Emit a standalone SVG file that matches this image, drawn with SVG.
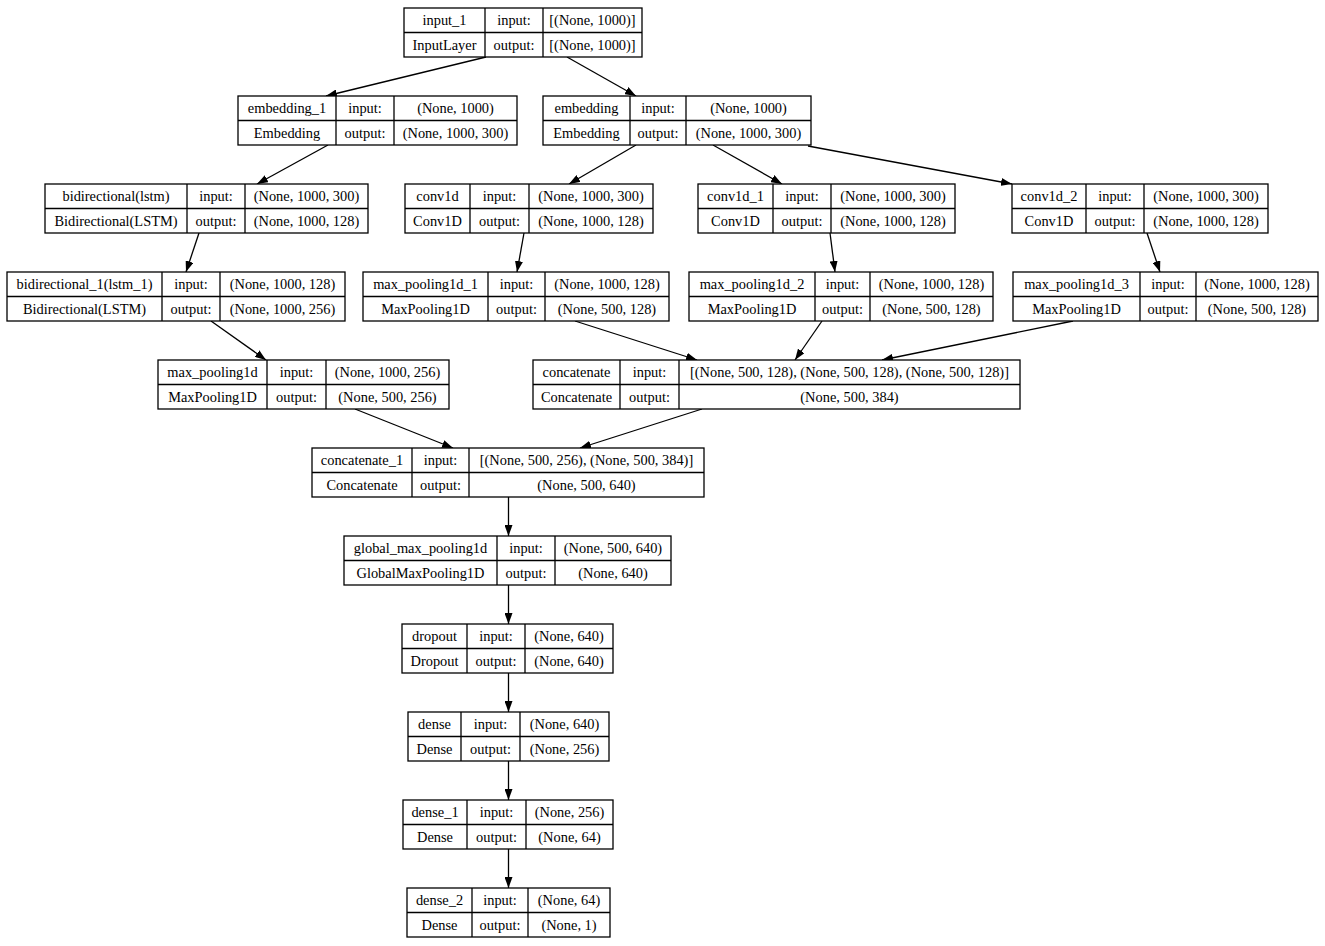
<svg xmlns="http://www.w3.org/2000/svg" width="1325" height="946" viewBox="0 0 1325 946">
<style>
.b{fill:#fff;stroke:#000;stroke-width:1.3}
.d{stroke:#000;stroke-width:1.3}
text{font-family:"Liberation Serif","Times New Roman",serif;font-size:14.4px;fill:#000;text-anchor:middle}
.e{stroke:#000;stroke-width:1.3;fill:none;marker-end:url(#ah)}
</style>
<defs>
<marker id="ah" viewBox="0 0 11 8" refX="11" refY="4" markerWidth="11" markerHeight="8" markerUnits="userSpaceOnUse" orient="auto">
<path d="M0,0 L11,4 L0,8 Z" fill="#000"/>
</marker>
</defs>
<rect width="1325" height="946" fill="#fff"/>
<g id="connectors">
<line class="e" x1="486" y1="57" x2="326" y2="96"/>
<line class="e" x1="567" y1="57" x2="636" y2="96"/>
<line class="e" x1="328" y1="145" x2="257" y2="184"/>
<line class="e" x1="199" y1="233" x2="186" y2="272"/>
<line class="e" x1="211" y1="321" x2="266" y2="360"/>
<line class="e" x1="636" y1="145" x2="569" y2="184"/>
<line class="e" x1="713" y1="145" x2="782" y2="184"/>
<line class="e" x1="808" y1="146" x2="1012" y2="184"/>
<line class="e" x1="524" y1="233" x2="517" y2="272"/>
<line class="e" x1="830" y1="233" x2="835" y2="272"/>
<line class="e" x1="1147" y1="233" x2="1160" y2="272"/>
<line class="e" x1="575" y1="321" x2="697" y2="360"/>
<line class="e" x1="822" y1="321" x2="795" y2="360"/>
<line class="e" x1="1073" y1="321" x2="882" y2="360"/>
<line class="e" x1="355" y1="409" x2="453" y2="448"/>
<line class="e" x1="702" y1="409" x2="580" y2="448"/>
<line class="e" x1="508.5" y1="497" x2="508.5" y2="536"/>
<line class="e" x1="508.5" y1="585" x2="508.5" y2="624"/>
<line class="e" x1="508.5" y1="673" x2="508.5" y2="712"/>
<line class="e" x1="508.5" y1="761" x2="508.5" y2="800"/>
<line class="e" x1="508.5" y1="849" x2="508.5" y2="888"/>
</g>
<g id="input_1">
<rect class="b" x="404" y="8" width="238" height="49"/>
<line class="d" x1="404" y1="32.5" x2="642" y2="32.5"/>
<line class="d" x1="485" y1="8" x2="485" y2="57"/>
<line class="d" x1="543" y1="8" x2="543" y2="57"/>
<text x="444.5" y="25">input_1</text><text x="514" y="25">input:</text><text x="592.5" y="25">[(None, 1000)]</text>
<text x="444.5" y="50">InputLayer</text><text x="514" y="50">output:</text><text x="592.5" y="50">[(None, 1000)]</text>
</g>
<g id="embedding_1">
<rect class="b" x="238" y="96" width="279" height="49"/>
<line class="d" x1="238" y1="120.5" x2="517" y2="120.5"/>
<line class="d" x1="336" y1="96" x2="336" y2="145"/>
<line class="d" x1="394" y1="96" x2="394" y2="145"/>
<text x="287" y="113">embedding_1</text><text x="365" y="113">input:</text><text x="455.5" y="113">(None, 1000)</text>
<text x="287" y="138">Embedding</text><text x="365" y="138">output:</text><text x="455.5" y="138">(None, 1000, 300)</text>
</g>
<g id="embedding">
<rect class="b" x="543" y="96" width="268" height="49"/>
<line class="d" x1="543" y1="120.5" x2="811" y2="120.5"/>
<line class="d" x1="630" y1="96" x2="630" y2="145"/>
<line class="d" x1="686" y1="96" x2="686" y2="145"/>
<text x="586.5" y="113">embedding</text><text x="658" y="113">input:</text><text x="748.5" y="113">(None, 1000)</text>
<text x="586.5" y="138">Embedding</text><text x="658" y="138">output:</text><text x="748.5" y="138">(None, 1000, 300)</text>
</g>
<g id="bidirectional_lstm">
<rect class="b" x="45" y="184" width="323" height="49"/>
<line class="d" x1="45" y1="208.5" x2="368" y2="208.5"/>
<line class="d" x1="187" y1="184" x2="187" y2="233"/>
<line class="d" x1="245" y1="184" x2="245" y2="233"/>
<text x="116" y="201">bidirectional(lstm)</text><text x="216" y="201">input:</text><text x="306.5" y="201">(None, 1000, 300)</text>
<text x="116" y="226">Bidirectional(LSTM)</text><text x="216" y="226">output:</text><text x="306.5" y="226">(None, 1000, 128)</text>
</g>
<g id="conv1d">
<rect class="b" x="405" y="184" width="248" height="49"/>
<line class="d" x1="405" y1="208.5" x2="653" y2="208.5"/>
<line class="d" x1="470" y1="184" x2="470" y2="233"/>
<line class="d" x1="529" y1="184" x2="529" y2="233"/>
<text x="437.5" y="201">conv1d</text><text x="499.5" y="201">input:</text><text x="591" y="201">(None, 1000, 300)</text>
<text x="437.5" y="226">Conv1D</text><text x="499.5" y="226">output:</text><text x="591" y="226">(None, 1000, 128)</text>
</g>
<g id="conv1d_1">
<rect class="b" x="698" y="184" width="257" height="49"/>
<line class="d" x1="698" y1="208.5" x2="955" y2="208.5"/>
<line class="d" x1="773" y1="184" x2="773" y2="233"/>
<line class="d" x1="831" y1="184" x2="831" y2="233"/>
<text x="735.5" y="201">conv1d_1</text><text x="802" y="201">input:</text><text x="893" y="201">(None, 1000, 300)</text>
<text x="735.5" y="226">Conv1D</text><text x="802" y="226">output:</text><text x="893" y="226">(None, 1000, 128)</text>
</g>
<g id="conv1d_2">
<rect class="b" x="1012" y="184" width="256" height="49"/>
<line class="d" x1="1012" y1="208.5" x2="1268" y2="208.5"/>
<line class="d" x1="1086" y1="184" x2="1086" y2="233"/>
<line class="d" x1="1144" y1="184" x2="1144" y2="233"/>
<text x="1049" y="201">conv1d_2</text><text x="1115" y="201">input:</text><text x="1206" y="201">(None, 1000, 300)</text>
<text x="1049" y="226">Conv1D</text><text x="1115" y="226">output:</text><text x="1206" y="226">(None, 1000, 128)</text>
</g>
<g id="bidirectional_1">
<rect class="b" x="7" y="272" width="338" height="49"/>
<line class="d" x1="7" y1="296.5" x2="345" y2="296.5"/>
<line class="d" x1="162" y1="272" x2="162" y2="321"/>
<line class="d" x1="220" y1="272" x2="220" y2="321"/>
<text x="84.5" y="289">bidirectional_1(lstm_1)</text><text x="191" y="289">input:</text><text x="282.5" y="289">(None, 1000, 128)</text>
<text x="84.5" y="314">Bidirectional(LSTM)</text><text x="191" y="314">output:</text><text x="282.5" y="314">(None, 1000, 256)</text>
</g>
<g id="max_pooling1d_1">
<rect class="b" x="363" y="272" width="306" height="49"/>
<line class="d" x1="363" y1="296.5" x2="669" y2="296.5"/>
<line class="d" x1="488" y1="272" x2="488" y2="321"/>
<line class="d" x1="545" y1="272" x2="545" y2="321"/>
<text x="425.5" y="289">max_pooling1d_1</text><text x="516.5" y="289">input:</text><text x="607" y="289">(None, 1000, 128)</text>
<text x="425.5" y="314">MaxPooling1D</text><text x="516.5" y="314">output:</text><text x="607" y="314">(None, 500, 128)</text>
</g>
<g id="max_pooling1d_2">
<rect class="b" x="689" y="272" width="304" height="49"/>
<line class="d" x1="689" y1="296.5" x2="993" y2="296.5"/>
<line class="d" x1="815" y1="272" x2="815" y2="321"/>
<line class="d" x1="870" y1="272" x2="870" y2="321"/>
<text x="752" y="289">max_pooling1d_2</text><text x="842.5" y="289">input:</text><text x="931.5" y="289">(None, 1000, 128)</text>
<text x="752" y="314">MaxPooling1D</text><text x="842.5" y="314">output:</text><text x="931.5" y="314">(None, 500, 128)</text>
</g>
<g id="max_pooling1d_3">
<rect class="b" x="1013" y="272" width="305" height="49"/>
<line class="d" x1="1013" y1="296.5" x2="1318" y2="296.5"/>
<line class="d" x1="1140" y1="272" x2="1140" y2="321"/>
<line class="d" x1="1196" y1="272" x2="1196" y2="321"/>
<text x="1076.5" y="289">max_pooling1d_3</text><text x="1168" y="289">input:</text><text x="1257" y="289">(None, 1000, 128)</text>
<text x="1076.5" y="314">MaxPooling1D</text><text x="1168" y="314">output:</text><text x="1257" y="314">(None, 500, 128)</text>
</g>
<g id="max_pooling1d">
<rect class="b" x="158" y="360" width="291" height="49"/>
<line class="d" x1="158" y1="384.5" x2="449" y2="384.5"/>
<line class="d" x1="267" y1="360" x2="267" y2="409"/>
<line class="d" x1="326" y1="360" x2="326" y2="409"/>
<text x="212.5" y="377">max_pooling1d</text><text x="296.5" y="377">input:</text><text x="387.5" y="377">(None, 1000, 256)</text>
<text x="212.5" y="402">MaxPooling1D</text><text x="296.5" y="402">output:</text><text x="387.5" y="402">(None, 500, 256)</text>
</g>
<g id="concatenate">
<rect class="b" x="533" y="360" width="487" height="49"/>
<line class="d" x1="533" y1="384.5" x2="1020" y2="384.5"/>
<line class="d" x1="620" y1="360" x2="620" y2="409"/>
<line class="d" x1="679" y1="360" x2="679" y2="409"/>
<text x="576.5" y="377">concatenate</text><text x="649.5" y="377">input:</text><text x="849.5" y="377">[(None, 500, 128), (None, 500, 128), (None, 500, 128)]</text>
<text x="576.5" y="402">Concatenate</text><text x="649.5" y="402">output:</text><text x="849.5" y="402">(None, 500, 384)</text>
</g>
<g id="concatenate_1">
<rect class="b" x="312" y="448" width="392" height="49"/>
<line class="d" x1="312" y1="472.5" x2="704" y2="472.5"/>
<line class="d" x1="412" y1="448" x2="412" y2="497"/>
<line class="d" x1="469" y1="448" x2="469" y2="497"/>
<text x="362" y="465">concatenate_1</text><text x="440.5" y="465">input:</text><text x="586.5" y="465">[(None, 500, 256), (None, 500, 384)]</text>
<text x="362" y="490">Concatenate</text><text x="440.5" y="490">output:</text><text x="586.5" y="490">(None, 500, 640)</text>
</g>
<g id="global_max_pooling1d">
<rect class="b" x="344" y="536" width="327" height="49"/>
<line class="d" x1="344" y1="560.5" x2="671" y2="560.5"/>
<line class="d" x1="497" y1="536" x2="497" y2="585"/>
<line class="d" x1="555" y1="536" x2="555" y2="585"/>
<text x="420.5" y="553">global_max_pooling1d</text><text x="526" y="553">input:</text><text x="613" y="553">(None, 500, 640)</text>
<text x="420.5" y="578">GlobalMaxPooling1D</text><text x="526" y="578">output:</text><text x="613" y="578">(None, 640)</text>
</g>
<g id="dropout">
<rect class="b" x="402" y="624" width="211" height="49"/>
<line class="d" x1="402" y1="648.5" x2="613" y2="648.5"/>
<line class="d" x1="467" y1="624" x2="467" y2="673"/>
<line class="d" x1="525" y1="624" x2="525" y2="673"/>
<text x="434.5" y="641">dropout</text><text x="496" y="641">input:</text><text x="569" y="641">(None, 640)</text>
<text x="434.5" y="666">Dropout</text><text x="496" y="666">output:</text><text x="569" y="666">(None, 640)</text>
</g>
<g id="dense">
<rect class="b" x="408" y="712" width="201" height="49"/>
<line class="d" x1="408" y1="736.5" x2="609" y2="736.5"/>
<line class="d" x1="461" y1="712" x2="461" y2="761"/>
<line class="d" x1="520" y1="712" x2="520" y2="761"/>
<text x="434.5" y="729">dense</text><text x="490.5" y="729">input:</text><text x="564.5" y="729">(None, 640)</text>
<text x="434.5" y="754">Dense</text><text x="490.5" y="754">output:</text><text x="564.5" y="754">(None, 256)</text>
</g>
<g id="dense_1">
<rect class="b" x="403" y="800" width="210" height="49"/>
<line class="d" x1="403" y1="824.5" x2="613" y2="824.5"/>
<line class="d" x1="467" y1="800" x2="467" y2="849"/>
<line class="d" x1="526" y1="800" x2="526" y2="849"/>
<text x="435" y="817">dense_1</text><text x="496.5" y="817">input:</text><text x="569.5" y="817">(None, 256)</text>
<text x="435" y="842">Dense</text><text x="496.5" y="842">output:</text><text x="569.5" y="842">(None, 64)</text>
</g>
<g id="dense_2">
<rect class="b" x="407" y="888" width="203" height="49"/>
<line class="d" x1="407" y1="912.5" x2="610" y2="912.5"/>
<line class="d" x1="472" y1="888" x2="472" y2="937"/>
<line class="d" x1="528" y1="888" x2="528" y2="937"/>
<text x="439.5" y="905">dense_2</text><text x="500" y="905">input:</text><text x="569" y="905">(None, 64)</text>
<text x="439.5" y="930">Dense</text><text x="500" y="930">output:</text><text x="569" y="930">(None, 1)</text>
</g>
</svg>
